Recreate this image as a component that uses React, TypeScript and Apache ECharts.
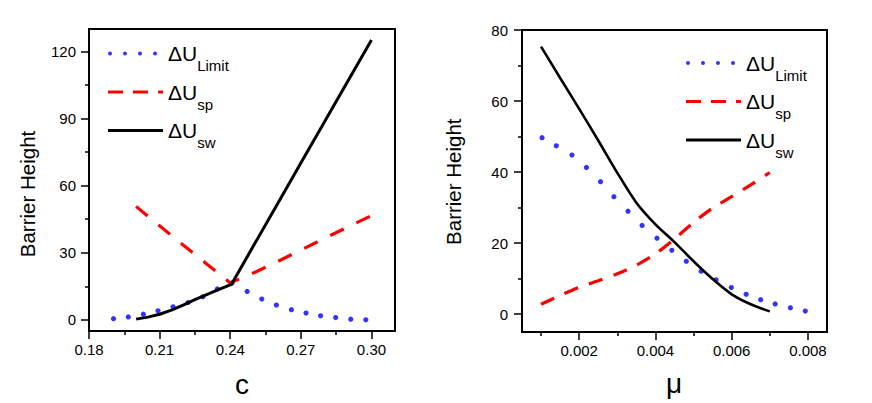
import React, { useEffect, useRef } from 'react';
import * as echarts from 'echarts';

const FONT = '"Liberation Sans", Arial, Helvetica, sans-serif';

// ---------- Left panel: x = c ----------
const cXTicks = [0.18, 0.21, 0.24, 0.27, 0.3];
const cXMinorTicks = [0.195, 0.225, 0.255, 0.285];
const cYTicks = [0, 30, 60, 90, 120];
const cYMinorTicks = [15, 45, 75, 105];

const cLimitX = [0.1904, 0.1967, 0.2031, 0.2093, 0.2157, 0.2221, 0.2284, 0.2345, 0.2408, 0.2472, 0.2534, 0.2596, 0.266, 0.2722, 0.2784, 0.2848, 0.2912, 0.2976];
const cLimitY = [0.5, 1.3, 2.5, 4.0, 5.8, 7.7, 10.3, 13.8, 16.5, 12.7, 9.3, 6.6, 4.5, 3.0, 1.8, 1.0, 0.3, 0.0];

const cSpX = [0.2, 0.205, 0.21, 0.215, 0.22, 0.225, 0.23, 0.235, 0.24, 0.25, 0.26, 0.27, 0.28, 0.29, 0.3];
const cSpY = [50.7, 46.3, 42.0, 37.7, 33.4, 29.2, 25.0, 20.8, 16.5, 21.0, 26.0, 31.2, 36.4, 41.5, 46.6];

const cSwX = [0.2, 0.205, 0.21, 0.215, 0.22, 0.225, 0.23, 0.235, 0.2405, 0.25, 0.26, 0.27, 0.28, 0.29, 0.3];
const cSwY = [0.3, 1.2, 2.5, 4.3, 6.6, 9.0, 11.3, 13.5, 15.8, 33.3, 51.7, 70.1, 88.4, 106.8, 125.1];

// ---------- Right panel: x = mu ----------
const muXTicks = [0.002, 0.004, 0.006, 0.008];
const muXMinorTicks = [0.001, 0.003, 0.005, 0.007];
const muYTicks = [0, 20, 40, 60, 80];
const muYMinorTicks = [10, 30, 50, 70];

const muLimitX = [0.001026, 0.0014, 0.00181, 0.00219, 0.00256, 0.00291, 0.00328, 0.00365, 0.00404, 0.00443, 0.00481, 0.0052, 0.00559, 0.00599, 0.00638, 0.00676, 0.00714, 0.00754, 0.00793];
const muLimitY = [49.7, 47.4, 44.8, 41.3, 37.3, 33.1, 29.0, 25.0, 21.4, 18.0, 14.9, 12.1, 9.7, 7.5, 5.6, 4.1, 2.9, 1.8, 0.9];

const muSpX = [0.001, 0.0015, 0.002, 0.0025, 0.003, 0.0035, 0.004, 0.0045, 0.005, 0.0055, 0.006, 0.0065, 0.007];
const muSpY = [2.8, 5.3, 7.6, 9.4, 11.4, 13.8, 17.0, 21.2, 25.8, 29.9, 33.1, 36.4, 39.9];

const muSwX = [0.001, 0.0015, 0.002, 0.0025, 0.003, 0.0035, 0.004, 0.0045, 0.005, 0.0055, 0.006, 0.0065, 0.007];
const muSwY = [75.3, 66.5, 57.8, 48.9, 39.8, 31.4, 25.3, 20.3, 14.9, 9.9, 5.6, 2.8, 0.8];

const zip = (xs: number[], ys: number[]) => xs.map((x, i) => [x, ys[i]]);

// legend icons (filled paths, width 55)
const DOTS_ICON = 'path://' + [2, 17, 32, 47].map((cx) => `M${cx - 2},2a2,2 0 1,0 4,0a2,2 0 1,0 -4,0Z`).join('') + 'M54.9,1.9L55,1.9L55,2.1Z';
const DASH_ICON = 'path://M0,0h15v3.2h-15ZM25,0h15v3.2h-15ZM50,0h5v3.2h-5Z';
const SOLID_ICON = 'path://M0,0h55v3h-55Z';

const BLUE = '#0000ff';
const RED = '#ff0000';
const BLACK = '#000000';

function mainX(gridIndex: number, min: number, max: number, ticks: number[], digits: number) {
  return {
    type: 'value', gridIndex, min, max, position: 'bottom',
    axisLine: { show: true, onZero: false, lineStyle: { color: BLACK, width: 2 } },
    axisTick: { show: true, inside: false, length: 8, customValues: ticks, lineStyle: { color: BLACK, width: 1.5 } },
    axisLabel: { show: true, customValues: ticks, margin: 11, color: BLACK, fontSize: 15, fontFamily: FONT, formatter: (v: number) => v.toFixed(digits) },
    splitLine: { show: false },
  };
}
function minorX(gridIndex: number, min: number, max: number, ticks: number[]) {
  return {
    type: 'value', gridIndex, min, max, position: 'bottom', offset: 0,
    axisLine: { show: false, onZero: false },
    axisTick: { show: true, inside: false, length: 4, customValues: ticks, lineStyle: { color: BLACK, width: 1.5 } },
    axisLabel: { show: false },
    splitLine: { show: false },
  };
}
function mainY(gridIndex: number, min: number, max: number, ticks: number[], margin: number) {
  return {
    type: 'value', gridIndex, min, max, position: 'left',
    axisLine: { show: true, onZero: false, lineStyle: { color: BLACK, width: 2 } },
    axisTick: { show: true, inside: false, length: 8, customValues: ticks, lineStyle: { color: BLACK, width: 1.5 } },
    axisLabel: { show: true, customValues: ticks, margin, color: BLACK, fontSize: 15, fontFamily: FONT, formatter: (v: number) => String(v) },
    splitLine: { show: false },
  };
}
function minorY(gridIndex: number, min: number, max: number, ticks: number[]) {
  return {
    type: 'value', gridIndex, min, max, position: 'left', offset: 0,
    axisLine: { show: false, onZero: false },
    axisTick: { show: true, inside: false, length: 4, customValues: ticks, lineStyle: { color: BLACK, width: 1.5 } },
    axisLabel: { show: false },
    splitLine: { show: false },
  };
}

function series(suffix: string, xi: number, yi: number, lx: number[], ly: number[], sx: number[], sy: number[], wx: number[], wy: number[], swWidth: number, dash: number[], smooth: number) {
  return [
    {
      name: 'Limit|' + suffix, type: 'scatter', xAxisIndex: xi, yAxisIndex: yi,
      data: zip(lx, ly), symbol: 'circle', symbolSize: 5.2, itemStyle: { color: BLUE, borderWidth: 0 }, silent: true,
    },
    {
      name: 'sp|' + suffix, type: 'line', xAxisIndex: xi, yAxisIndex: yi, smooth,
      data: zip(sx, sy), showSymbol: false, symbol: 'none', itemStyle: { color: RED, borderWidth: 0 },
      lineStyle: { color: RED, width: 3.2, type: dash, cap: 'butt' }, silent: true,
    },
    {
      name: 'sw|' + suffix, type: 'line', xAxisIndex: xi, yAxisIndex: yi, smooth,
      data: zip(wx, wy), showSymbol: false, symbol: 'none', itemStyle: { color: BLACK, borderWidth: 0 },
      lineStyle: { color: BLACK, width: swWidth }, silent: true,
    },
  ];
}

function legend(suffix: string, left: number, top: number) {
  return {
    orient: 'vertical', left, top, padding: 0, itemWidth: 55, itemHeight: 14, itemGap: -0.5,
    selectedMode: false,
    itemStyle: { borderWidth: 0 },
    data: [
      { name: 'Limit|' + suffix, icon: DOTS_ICON },
      { name: 'sp|' + suffix, icon: DASH_ICON },
      { name: 'sw|' + suffix, icon: SOLID_ICON },
    ],
    formatter: (name: string) => `{a|\u0394U}{b|${name.split('|')[0]}}`,
    textStyle: {
      color: BLACK,
      fontFamily: FONT,
      rich: {
        a: { fontSize: 21, lineHeight: 26, fontFamily: FONT, color: BLACK },
        b: { fontSize: 15, lineHeight: 26, fontFamily: FONT, color: BLACK, padding: [24, 0, 0, 0] },
      },
    },
  };
}

export default function App() {
  const ref = useRef<HTMLDivElement>(null);
  useEffect(() => {
    if (!ref.current) return;
    const chart = echarts.init(ref.current, undefined, { renderer: 'svg' });
    const option = {
      animation: false,
      backgroundColor: '#ffffff',
      textStyle: { fontFamily: FONT },
      grid: [
        { left: 89, top: 29, width: 306, height: 302, show: true, borderColor: BLACK, borderWidth: 2, backgroundColor: 'transparent', containLabel: false },
        { left: 522, top: 30, width: 305, height: 302, show: true, borderColor: BLACK, borderWidth: 2, backgroundColor: 'transparent', containLabel: false },
      ],
      xAxis: [
        mainX(0, 0.18, 0.31, cXTicks, 2),
        minorX(0, 0.18, 0.31, cXMinorTicks),
        mainX(1, 0.0005, 0.0085, muXTicks, 3),
        minorX(1, 0.0005, 0.0085, muXMinorTicks),
      ],
      yAxis: [
        mainY(0, -5, 130, cYTicks, 13),
        minorY(0, -5, 130, cYMinorTicks),
        mainY(1, -5, 80, muYTicks, 14),
        minorY(1, -5, 80, muYMinorTicks),
      ],
      legend: [legend('c', 108, 34), legend('mu', 686, 43.5)],
      series: [
        ...series('c', 0, 0, cLimitX, cLimitY, cSpX, cSpY, cSwX, cSwY, 3, [15, 14], 0),
        ...series('mu', 2, 2, muLimitX, muLimitY, muSpX, muSpY, muSwX, muSwY, 2.6, [14.5, 11.5], 0.3),
      ],
      graphic: [
        { type: 'text', x: 27.5, y: 194, rotation: Math.PI / 2, style: { text: 'Barrier Height', fontSize: 20.5, fontFamily: FONT, fill: BLACK, align: 'center', verticalAlign: 'middle' } },
        { type: 'text', x: 453, y: 181.7, rotation: Math.PI / 2, style: { text: 'Barrier Height', fontSize: 20.5, fontFamily: FONT, fill: BLACK, align: 'center', verticalAlign: 'middle' } },
        { type: 'text', x: 242, y: 384.5, style: { text: 'c', fontSize: 28, fontFamily: FONT, fill: BLACK, align: 'center', verticalAlign: 'middle' } },
        { type: 'text', x: 674, y: 383, style: { text: '\u03bc', fontSize: 28, fontFamily: FONT, fill: BLACK, align: 'center', verticalAlign: 'middle' } },
      ],
    };
    chart.setOption(option as any);
    return () => chart.dispose();
  }, []);
  return <div ref={ref} style={{ position: 'absolute', left: 0, top: 0, width: 872, height: 403, background: '#fff' }} />;
}
